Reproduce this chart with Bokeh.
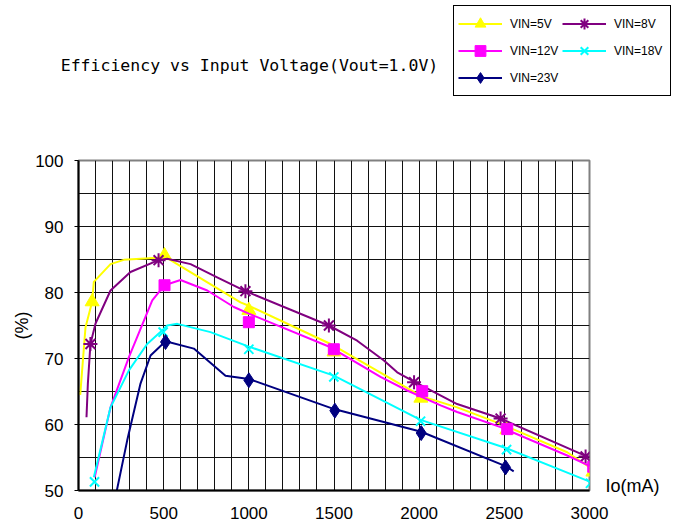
from bokeh.plotting import figure
from bokeh.models import Range1d, FixedTicker, Legend, LegendItem, LinearAxis
from bokeh.layouts import column, row
from bokeh.embed import file_html
from bokeh.resources import INLINE
from bokeh.core.properties import value

# ---------------- data ----------------
title_text = "Efficiency vs Input Voltage(Vout=1.0V)"
x_unit_label = "Io(mA)"
y_unit_label = "(%)"

x_ticks = [0, 500, 1000, 1500, 2000, 2500, 3000]
y_ticks = [50, 60, 70, 80, 90, 100]
x_grid = list(range(100, 3000, 100))
y_grid = list(range(55, 100, 5))

names = ["VIN=5V", "VIN=8V", "VIN=12V", "VIN=18V", "VIN=23V"]

# curve vertices
vin5_cx = [10, 41, 80, 90, 188, 266, 462, 505, 560, 951, 1000, 1480, 2012, 2223, 2478, 2869, 3020]
vin5_cy = [64.5, 74.7, 78.6, 81.6, 84.3, 84.95, 85.25, 85.5, 84.6, 78.5, 78.0, 72.2, 64.3, 62.6, 60.1, 55.8, 53.2]
vin8_cx = [47, 55, 70, 100, 188, 305, 470, 521, 658, 814, 980, 1470, 1636, 1793, 1871, 1970, 2223, 2478, 2980]
vin8_cy = [61.1, 66.2, 72.2, 75.3, 80.3, 83.1, 84.9, 85.1, 84.3, 82.3, 80.2, 75.0, 72.7, 69.7, 67.9, 66.5, 63.1, 60.9, 55.2]
vin12_cx = [95, 188, 296, 433, 505, 599, 756, 912, 1000, 1480, 1773, 1930, 2126, 2223, 2478, 2869, 3020]
vin12_cy = [52.0, 62.6, 70.2, 78.8, 81.1, 81.9, 80.3, 77.8, 76.8, 71.7, 67.2, 65.15, 62.9, 61.9, 59.6, 55.3, 53.5]
vin18_cx = [90, 188, 296, 403, 481, 521, 580, 775, 1000, 1499, 2008, 2513, 3006]
vin18_cy = [52.0, 62.6, 68.2, 72.2, 74.0, 75.0, 75.25, 74.0, 71.8, 67.4, 60.7, 56.4, 51.3]
vin23_cx = [217, 286, 364, 423, 511, 677, 863, 1000, 1505, 2012, 2507, 2555]
vin23_cy = [49.0, 57.6, 66.2, 70.45, 72.6, 71.5, 67.4, 66.9, 62.3, 58.9, 53.7, 52.9]

# measured points (markers)
vin5_mx = [80, 505, 1000, 1500, 2010, 2515, 3020]
vin5_my = [78.6, 85.6, 77.3, 71.0, 64.0, 59.2, 52.8]
vin8_mx = [70, 470, 980, 1470, 1970, 2478, 2977]
vin8_my = [72.2, 84.9, 80.2, 75.0, 66.4, 60.9, 55.15]
vin12_mx = [505, 1000, 1499, 2018, 2517, 3022]
vin12_my = [81.1, 75.5, 71.4, 65.05, 59.3, 53.6]
vin18_mx = [94, 497, 1000, 1499, 2008, 2513, 3006]
vin18_my = [51.3, 74.0, 71.4, 67.2, 60.5, 56.2, 51.1]
vin23_mx = [511, 1000, 1505, 2012, 2507]
vin23_my = [72.5, 66.7, 62.1, 58.7, 53.5]

# ---------------- styles ----------------
SANS = "'Liberation Sans', Arial, sans-serif"
MONO = "'DejaVu Sans Mono', monospace"
NAN = float("nan")

styles = [
    dict(color="#FFFF00", marker="triangle", size=14, lw=1),
    dict(color="#800080", marker="asterisk", size=14, lw=2),
    dict(color="#FF00FF", marker="square", size=11, lw=1),
    dict(color="#00FFFF", marker="x", size=13, lw=2),
    dict(color="#000080", marker="diamond", size=15, lw=1),
]

curves = [(vin5_cx, vin5_cy), (vin8_cx, vin8_cy), (vin12_cx, vin12_cy),
          (vin18_cx, vin18_cy), (vin23_cx, vin23_cy)]
marks = [(vin5_mx, vin5_my), (vin8_mx, vin8_my), (vin12_mx, vin12_my),
         (vin18_mx, vin18_my), (vin23_mx, vin23_my)]

# ---------------- top strip: title + legend ----------------
top = figure(width=673, height=100, x_range=Range1d(0, 673), y_range=Range1d(100, 0),
             min_border=0, x_axis_type=None, y_axis_type=None,
             output_backend="svg", toolbar_location=None,
             background_fill_color="white", border_fill_color="white")
top.outline_line_color = None
top.grid.visible = False
top.text(x=[249], y=[65], text=[title_text], text_font=value(MONO),
         text_font_size="16.5px", text_align="center", text_baseline="middle",
         text_color="black")

items = []
for name, st in zip(names, styles):
    # legend-only renderers (a single empty point, nothing is drawn in the frame)
    lr = top.line([NAN], [NAN], line_color=st["color"], line_width=2)
    mr = top.scatter([NAN], [NAN], marker=st["marker"], size=st["size"],
                     line_color=st["color"], line_width=st["lw"], fill_color=st["color"])
    items.append(LegendItem(label=name, renderers=[lr, mr]))

legend = Legend(items=items, orientation="horizontal", ncols=2,
                location=(453, 4),
                border_line_color="black", border_line_width=1, border_line_alpha=1,
                background_fill_color="white", background_fill_alpha=1,
                label_text_font=SANS, label_text_font_size="12px",
                label_text_color="black",
                glyph_width=44, glyph_height=27, label_height=27, label_width=52,
                label_standoff=8, padding=4, spacing=0, margin=0)
top.add_layout(legend, "center")

# ---------------- main chart ----------------
p = figure(frame_width=511, frame_height=330,
           min_border_left=78, min_border_right=84,
           min_border_top=60, min_border_bottom=42,
           x_range=Range1d(0, 3000), y_range=Range1d(50, 100),
           output_backend="svg", toolbar_location=None,
           background_fill_color="white", border_fill_color="white")
p.extra_y_ranges = {"unit": Range1d(0, 330)}

p.outline_line_color = "#808080"
p.outline_line_width = 2

p.xgrid.ticker = FixedTicker(ticks=x_grid)
p.ygrid.ticker = FixedTicker(ticks=y_grid)
for g in (p.xgrid, p.ygrid):
    g.grid_line_color = "#111111"
    g.grid_line_width = 1

p.xaxis.ticker = FixedTicker(ticks=x_ticks)
p.yaxis.ticker = FixedTicker(ticks=y_ticks)
for ax in (p.xaxis, p.yaxis):
    ax.axis_line_color = "black"
    ax.axis_line_width = 2
    ax.minor_tick_line_color = None
    ax.major_tick_in = 0
    ax.major_label_text_font = SANS
    ax.major_label_text_font_size = "17px"
    ax.major_label_text_color = "black"
p.xaxis.major_tick_out = 0
p.xaxis.major_label_standoff = 16
p.yaxis.major_tick_out = 4
p.yaxis.major_tick_line_color = "black"
p.yaxis.major_label_standoff = 11
p.yaxis.axis_label = y_unit_label
p.yaxis.axis_label_text_font = SANS
p.yaxis.axis_label_text_font_size = "18px"
p.yaxis.axis_label_text_font_style = "normal"
p.yaxis.axis_label_text_color = "black"
p.yaxis.axis_label_standoff = 0

# x unit label, sitting just right of the frame near its bottom
unit_axis = LinearAxis(y_range_name="unit", ticker=FixedTicker(ticks=[5]),
                       major_label_overrides={5: x_unit_label},
                       axis_line_color=None, major_tick_line_color=None,
                       minor_tick_line_color=None, major_tick_out=0, major_tick_in=0,
                       major_label_standoff=16,
                       major_label_text_font=SANS, major_label_text_font_size="18px",
                       major_label_text_color="black")
p.add_layout(unit_axis, "right")

for (cx, cy), (mx, my), st in zip(curves, marks, styles):
    p.line(cx, cy, line_color=st["color"], line_width=2, line_join="round")
    p.scatter(mx, my, marker=st["marker"], size=st["size"],
              line_color=st["color"], line_width=st["lw"], fill_color=st["color"])

layout = column(top, row(p, spacing=0), spacing=0)
open("out.html", "w").write(file_html(layout, INLINE))
